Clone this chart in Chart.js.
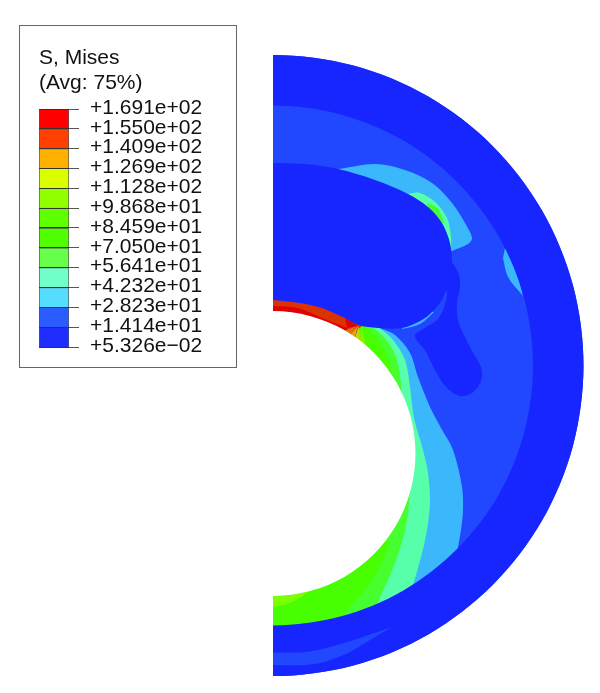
<!DOCTYPE html>
<html>
<head>
<meta charset="utf-8">
<title>S, Mises</title>
<script src="https://cdn.jsdelivr.net/npm/chart.js@4/dist/chart.umd.min.js"></script>
<style>
    body { margin: 0; background: #fff; }
    #legendBox { position: absolute; left: 19px; top: 25px; width: 216px; height: 341px; border: 1px solid #666; }
    #legendChart { position: absolute; left: 0; top: 0; }
    #contourChart { position: absolute; left: 273px; top: 0; }
</style>
</head>
<body>
<div id="legendBox"><canvas id="legendChart" width="216" height="341"></canvas></div>
<canvas id="contourChart" width="327" height="693"></canvas>
<script>
// Legend values
const legendTitle = ['S, Mises', '(Avg: 75%)'];
const legendLevels = [0.05326, 14.14, 28.23, 42.32, 56.41, 70.50, 84.59, 98.68, 112.8, 126.9, 140.9, 155.0, 169.1];
const legendLabels = ['+5.326e\u221202', '+1.414e+01', '+2.823e+01', '+4.232e+01', '+5.641e+01', '+7.050e+01', '+8.459e+01',
    '+9.868e+01', '+1.128e+02', '+1.269e+02', '+1.409e+02', '+1.550e+02', '+1.691e+02'];
const legendColors = ['#1f2eff', '#2a5cff', '#55ddff', '#70ffc8', '#66ff4a', '#50ff00', '#60ff00',
    '#90ff00', '#dcff00', '#ffb000', '#ff4000', '#ff0000'];

// Contour outlines (x, y)
const outerArc = [[192.6,65.6],[273,55],[353.4,65.6],[428.3,96.6],[492.6,145.9],[541.9,210.3],[572.9,285.1],[583.5,365.5],
    [572.9,445.9],[541.9,520.8],[492.6,585.1],[428.3,634.4],[353.4,665.4],[273,676],[192.6,665.4]];
const innerArc = [[205.7,616.6],[273,625.5],[340.3,616.6],[403,590.7],[456.8,549.3],[498.2,495.7],[524.1,432.8],[533,365.5],
    [524.1,298.2],[498.2,235.5],[456.8,181.7],[403,140.3],[340.3,114.4],[273,105.5],[205.7,114.4]];
const holeArc = [[236.1,315.9],[273,311],[309.9,315.9],[344.3,330.1],[373.8,352.7],[396.4,382.3],[410.6,416.6],[415.5,453.5],
    [410.6,490.4],[396.4,524.8],[373.8,554.3],[344.3,576.9],[309.9,591.1],[273,596],[236.1,591.1]];
const lowerBand = [[260,652.7],[273,652.7],[308,651.7],[348,641.7],[392,627],[392,627],[365,643],[348,653],[315,664],[273,665],[260,665]];

const cyanStripe = [[365,322],[382,329],[395,335],[410,353],[418,377],[430,407],[441,428],[453,450],[462,487],[463,510],[461,530],[458,547],[452,580],[452,580],
    [273,650],[273,650],[273,500],[273,500],[350,400],[350,400]];
const mintStripe = [[370,322],[381,329],[393,340],[405,360],[410,387],[414,418],[423,450],[428,473],[430,500],[428,523],[424,545],[414,582],[405,610],[405,610],
    [273,650],[273,650],[273,500],[273,500],[350,400],[350,400]];
const greenStripe = [[365,322],[375,329],[388,342],[397,360],[401,385],[405,440],[408,480],[409.5,498],[405,530],[395,563],[378,602],[368,625],[368,625],
    [273,650],[273,650],[273,500],[273,500],[350,400],[350,400]];
const brightStripe = [[360,322],[368,329],[378,340],[385,352],[390,365],[392,378],[380,450],[388,542],[372,580],[345,613],[335,630],[335,630],
    [273,650],[273,650],[273,500],[273,500],[350,400],[350,400]];
const limeTip = [[260,607],[273,607],[292,602],[310,591],[310,591],[310,570],[310,570],[260,570]];

const orangeRedBand = [[260,290],[273,290],[320,295],[350,310],[362,326],[362,326],[345,340],[345,340],[273,330],[260,330]];
const redBand = [[260,306],[273,306],[298,308],[322,318],[347,328],[347,328],[345,340],[345,340],[273,330],[260,330]];
const redBlob = [[345,318],[345,318],[358,326],[358,326],[347,328],[347,328]];
const orangeWedge = [[357,326],[357,326],[344,331],[344,331],[349,336],[349,336]];
const amberWedge = [[358,326],[358,326],[349,336],[349,336],[354,340],[354,340]];
const yellowWedge = [[359,326],[359,326],[354,340],[354,340],[360,344],[360,344]];
const yellowGreenWedge = [[361,326],[361,326],[360,344],[360,344],[367,349],[367,349]];

const upperCyan = [[339,172],[339,172],[339,169],[339,169],[375,164],[405,170],[432,183],[452,203],[465,223],[472,238],[468,244],[452,251],[452,251],
    [400,230],[400,230]];
const upperMint = [[405,196],[405,196],[408,194],[420,193],[435,202],[447,218],[451,237],[451,250],[451,250],[420,230],[420,230]];
const upperGreen = [[427,203],[427,203],[437,208],[445,224],[445,224],[430,216],[430,216]];
const rightLens = [[505,248],[505,248],[514,262],[523,296],[523,296],[508,277],[503,258]];
const lobeSliver = [[402,329],[402,329],[420,324],[434,312],[434,312],[425,310],[425,310],[405,322],[405,322]];

const darkBlob = [[453,263],[459,275],[460,287],[457,303],[458,320],[463,333],[472,351],[481,367],[481,381],[472,393],[460,396],[447,388],
    [436,372],[426,352],[415,336],[423,329],[437,320],[443,310],[446,300],[447,293],[440,275],[440,275]];
const darkLobe = [[260,163],[273,163],[305,164],[338,169],[375,180],[408,194],[428,207],[442,223],[450,243],[452,262],[452,272],[450,285],[445,293],
    [442,300],[432,312],[422,320],[402,328],[378,328],[358,325],[345,318],[315,306],[273,300],[260,300]];
const outerRing = outerArc.concat(innerArc);

// Colours, back to front
const contourLayers = [
    [outerArc, '#2148ff'],
    [cyanStripe, '#3bb8fb'],
    [mintStripe, '#58ffaa'],
    [greenStripe, '#47ff2e'],
    [brightStripe, '#47ff00'],
    [limeTip, '#7cff00'],
    [orangeRedBand, '#dc3200'],
    [redBand, '#e00000'],
    [redBlob, '#e00000'],
    [orangeWedge, '#e07010'],
    [amberWedge, '#e0a810'],
    [yellowWedge, '#cfd500'],
    [yellowGreenWedge, '#8fef00'],
    [upperCyan, '#3bb8fb'],
    [upperMint, '#58ffaa'],
    [upperGreen, '#47ff2e'],
    [rightLens, '#3bb8fb'],
    [lobeSliver, '#3bb8fb'],
    [darkBlob, '#1726ff'],
    [darkLobe, '#1726ff'],
    [outerRing, '#1726ff'],
    [lowerBand, '#2148ff'],
    [holeArc, '#ffffff']
];

// Create contour chart
function createContourChart() {
    new Chart(document.getElementById('contourChart'), {
        type: 'scatter',
        data: {
            datasets: contourLayers.map(([outline, color], i) => ({
                data: outline.map(([x, y]) => ({ x, y })),
                showLine: true,
                fill: 'shape',
                tension: 0.33,
                capBezierPoints: false,
                backgroundColor: color,
                borderWidth: 0,
                pointRadius: 0,
                order: contourLayers.length - i
            }))
        },
        options: {
            responsive: false,
            animation: false,
            events: [],
            plugins: {
                legend: { display: false },
                title: { display: false },
                tooltip: { enabled: false }
            },
            scales: {
                x: { type: 'linear', display: false, min: 273, max: 600 },
                y: { type: 'linear', display: false, min: 0, max: 693, reverse: true }
            }
        }
    });
}

// Create legend chart
function createLegendChart() {
    new Chart(document.getElementById('legendChart'), {
        type: 'bar',
        data: {
            labels: [''],
            datasets: legendColors.map((color, i) => ({
                data: [[legendLevels[i], legendLevels[i + 1]]],
                backgroundColor: color,
                borderColor: '#555',
                borderWidth: 1,
                barPercentage: 1,
                categoryPercentage: 1
            }))
        },
        options: {
            responsive: false,
            animation: false,
            events: [],
            layout: { padding: { left: 19, right: 0, top: 8, bottom: 20 } },
            plugins: {
                legend: { display: false },
                tooltip: { enabled: false },
                title: {
                    display: true,
                    text: legendTitle,
                    align: 'start',
                    color: '#111',
                    font: { family: '"Liberation Sans", Arial, sans-serif', size: 21, weight: 'normal', lineHeight: 25 / 21 },
                    padding: { top: 12, bottom: 13 }
                }
            },
            scales: {
                x: { display: false, stacked: true },
                y: {
                    position: 'right',
                    min: legendLevels[0],
                    max: legendLevels[legendLevels.length - 1],
                    afterFit: scale => {
                        scale.width = 167;
                        scale.paddingTop = 0;
                        scale.paddingBottom = 0;
                    },
                    afterBuildTicks: scale => { scale.ticks = legendLevels.map(value => ({ value })); },
                    border: { display: false },
                    grid: { z: 1, color: '#333', tickColor: '#555', tickLength: 10, lineWidth: 1 },
                    ticks: {
                        color: '#111',
                        padding: 11,
                        labelOffset: -1,
                        autoSkip: false,
                        font: { family: '"Liberation Sans", Arial, sans-serif', size: 21 },
                        callback: (value, index) => legendLabels[index]
                    }
                }
            }
        }
    });
}

createContourChart();
createLegendChart();
</script>
</body>
</html>
